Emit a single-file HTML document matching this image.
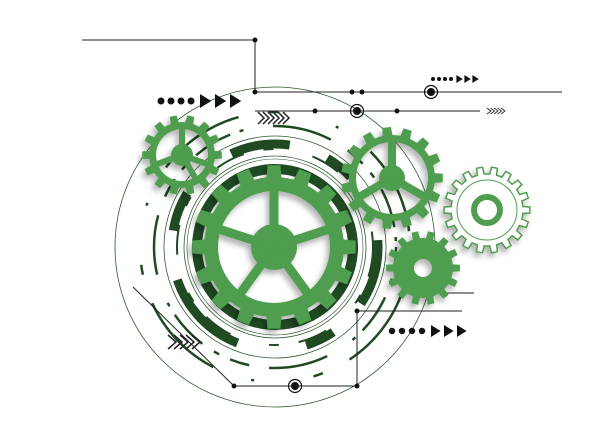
<!DOCTYPE html>
<html><head><meta charset="utf-8"><style>
html,body{margin:0;padding:0;background:#fff;width:614px;height:441px;overflow:hidden}
svg{display:block}
</style></head><body>
<svg id="s" width="614" height="441" viewBox="0 0 614 441" xmlns="http://www.w3.org/2000/svg">
<defs>
<filter id="sh" x="-30%" y="-30%" width="160%" height="160%"><feDropShadow dx="-3" dy="4" stdDeviation="3" flood-color="#000" flood-opacity="0.3"/></filter>
</defs>
<g fill="none" stroke="#2d5a2f">
<circle cx="275" cy="247" r="160" stroke-width="0.8"/>
<circle cx="275" cy="247" r="111" stroke-width="0.8"/>
<circle cx="275" cy="247" r="91" stroke-width="0.8"/>
<circle cx="275" cy="247" r="88" stroke-width="0.6"/>
<circle cx="275" cy="247" r="103" stroke="#1f4a22" stroke-width="9" stroke-dasharray="60 40 30 70 90 50 40 60" />
<circle cx="275" cy="247" r="121" stroke="#1f4a22" stroke-width="2.5" stroke-dasharray="20 12 6 14 40 10 4 30 60 20"/>
<circle cx="275" cy="247" r="135" stroke="#1f4a22" stroke-width="2.5" stroke-dasharray="3 40 90 30 10 60" />
<circle cx="275" cy="247" r="98" stroke="#1f4a22" stroke-width="2" stroke-dasharray="30 20 10 40"/>
<circle cx="275" cy="247" r="78" stroke="#1f4a22" stroke-width="10"/>
</g>
<g stroke="#222" stroke-width="1" fill="none">
<polyline points="82,40 255,40 255,92 562,92"/>
<line x1="255" y1="111" x2="480" y2="111"/>
<polyline points="133,287 234,386 357,386 357,311 462,311"/>
<line x1="445" y1="293" x2="474" y2="293"/>
</g>
<g fill="#111">
<circle cx="255" cy="40" r="2.5"/><circle cx="255" cy="92" r="2.5"/>
<circle cx="352" cy="92" r="2.5"/><circle cx="362" cy="92" r="2.5"/>
<circle cx="315" cy="111" r="2.5"/><circle cx="397" cy="111" r="2.5"/>
<circle cx="234" cy="386" r="2.5"/><circle cx="357" cy="386" r="2.5"/><circle cx="357" cy="311" r="2.5"/>
<circle cx="431" cy="92" r="4"/><circle cx="357" cy="111" r="4"/><circle cx="295" cy="386" r="4"/>
</g>
<g fill="none" stroke="#111" stroke-width="1.2">
<circle cx="431" cy="92" r="6.5"/><circle cx="357" cy="111" r="6.5"/><circle cx="295" cy="386" r="6.5"/>
</g>
<g fill="#111" id="dots"></g>
<g fill="none" stroke="#222" stroke-width="1" id="chev"></g>
<g id="gears"></g>
</svg>
<script>
var NS="http://www.w3.org/2000/svg";
function el(p,t,a){var e=document.createElementNS(NS,t);for(var k in a)e.setAttribute(k,a[k]);p.appendChild(e);return e;}
var dots=document.getElementById('dots');
function row(x,y,r,n,gap,tn,ts,tgap){for(var i=0;i<n;i++)el(dots,'circle',{cx:x+i*gap,cy:y,r:r});var tx=x+(n-1)*gap+gap*0.9;for(var j=0;j<tn;j++){var a=tx+j*tgap;el(dots,'polygon',{points:a+','+(y-ts)+' '+(a+ts*1.6)+','+y+' '+a+','+(y+ts)});}}
row(161,101,3.5,4,10,3,7,15);
row(433,79,2,4,6,3,4,8);
row(392,331,3.2,4,10,3,6,13);
var ch=document.getElementById('chev');
function chev(x,y,n,w,h,g,sw){for(var i=0;i<n;i++){var a=x+i*g;el(ch,'polyline',{points:a+','+(y-h)+' '+(a+w)+','+y+' '+a+','+(y+h),'stroke-width':sw});}}
chev(487,111,5,4,3,3.5,0.8);
chev(258,118,6,6,6,5,1.5);
chev(168,342,5,8,7,6,1.5);
function gear(cx,cy,ro,rr,n){var d='';for(var i=0;i<n;i++){var b=i*2*Math.PI/n,s=Math.PI/n;var pts=[[rr,b-s*0.55],[ro,b-s*0.4],[ro,b+s*0.4],[rr,b+s*0.55]];pts.forEach(function(p,k){var x=cx+p[0]*Math.cos(p[1]),y=cy+p[0]*Math.sin(p[1]);d+=(i==0&&k==0?'M':'L')+x.toFixed(1)+' '+y.toFixed(1)+' ';});
var a2=b+s*1.45;d+='A'+rr+' '+rr+' 0 0 1 '+(cx+rr*Math.cos(a2)).toFixed(1)+' '+(cy+rr*Math.sin(a2)).toFixed(1)+' ';}
return d+'Z';}
function circ(cx,cy,r,rev){return 'M'+(cx-r)+' '+cy+(rev?'a'+r+' '+r+' 0 1 0 '+2*r+' 0a'+r+' '+r+' 0 1 0 '+(-2*r)+' 0Z':'a'+r+' '+r+' 0 1 1 '+2*r+' 0a'+r+' '+r+' 0 1 1 '+(-2*r)+' 0Z');}
var G=document.getElementById('gears'),green='#4f9d4f';
function spoked(cx,cy,ro,rr,n,ri,hub,angs,sw){var g=el(G,'g',{filter:'url(#sh)'});
el(g,'path',{d:gear(cx,cy,ro,rr,n)+circ(cx,cy,ri,true),fill:green,'fill-rule':'evenodd'});
el(g,'circle',{cx:cx,cy:cy,r:hub,fill:green});
angs.forEach(function(a){a=a*Math.PI/180;el(g,'line',{x1:cx,y1:cy,x2:cx+(ri+2)*Math.cos(a),y2:cy+(ri+2)*Math.sin(a),stroke:green,'stroke-width':sw});});}
spoked(274,247,82,70,16,56,23,[-90,-18,54,126,198],9);
spoked(182,155,40,33,14,26,11,[-90,20,160,60],6);
spoked(392,178,51,43,15,36,13,[-90,30,150],8);
var g2=el(G,'g',{filter:'url(#sh)'});
el(g2,'path',{d:gear(423,268,37,30,14)+circ(423,268,9,true),fill:green,'fill-rule':'evenodd'});
var g3=el(G,'g',{filter:'url(#sh)'});
el(g3,'path',{d:gear(487,210,43,36,18),fill:'#fff',stroke:green,'stroke-width':1.5});
el(g3,'circle',{cx:487,cy:210,r:30,fill:'none',stroke:green,'stroke-width':1});
el(g3,'circle',{cx:487,cy:210,r:13,fill:'none',stroke:green,'stroke-width':6});
</script>
</body></html>
